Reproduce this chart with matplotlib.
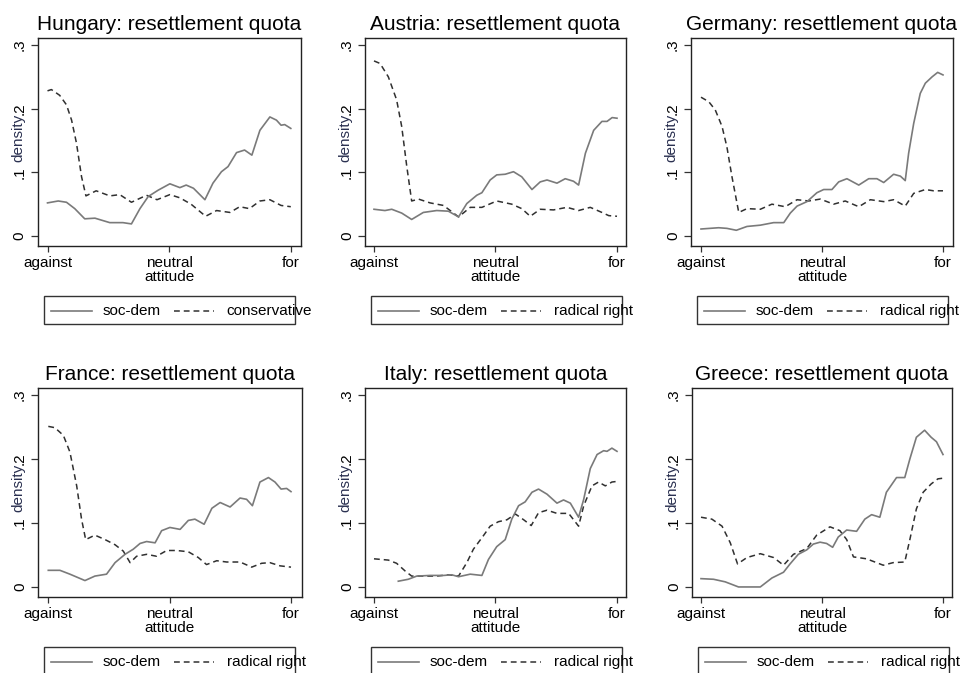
import matplotlib
matplotlib.use("Agg")
import matplotlib.pyplot as plt
from matplotlib.lines import Line2D
from matplotlib.patches import Rectangle

plt.rcParams['font.family'] = ['Liberation Sans', 'DejaVu Sans']

# ---------------- data ----------------
countries = ["Hungary", "Austria", "Germany", "France", "Italy", "Greece"]
other_labels = ["conservative", "radical right", "radical right",
                "radical right", "radical right", "radical right"]
tick_values = [0, 5, 10]
tick_labels = ["against", "neutral\nattitude", "for"]
ytick_values = [0, 0.1, 0.2, 0.3]
ytick_labels = ["0", ".1", ".2", ".3"]

hungary_sd_x = [0, 0.44, 0.78, 1.12, 1.53, 1.95, 2.56, 3.1, 3.45, 3.8, 4.14, 4.55, 5.03, 5.44, 5.7, 6.0,
                6.47, 6.8, 7.15, 7.42, 7.77, 8.1, 8.4, 8.73, 9.14, 9.41, 9.6, 9.75, 10]
hungary_sd_y = [0.052, 0.055, 0.053, 0.043, 0.027, 0.028, 0.021, 0.021, 0.019, 0.043, 0.062, 0.072, 0.082,
                0.076, 0.080, 0.075, 0.057, 0.083, 0.101, 0.109, 0.131, 0.135, 0.127, 0.166, 0.187, 0.182,
                0.174, 0.175, 0.169]
hungary_ot_x = [0, 0.16, 0.5, 0.78, 0.99, 1.19, 1.4, 1.58, 2.0, 2.56, 2.97, 3.45, 4.07, 4.5, 5.03, 5.44,
                5.9, 6.5, 6.95, 7.5, 7.9, 8.3, 8.73, 9.14, 9.6, 10]
hungary_ot_y = [0.228, 0.230, 0.221, 0.206, 0.182, 0.146, 0.093, 0.063, 0.071, 0.063, 0.065, 0.053, 0.064,
                0.057, 0.065, 0.060, 0.050, 0.031, 0.040, 0.037, 0.046, 0.043, 0.055, 0.057, 0.048, 0.046]

austria_sd_x = [0, 0.45, 0.73, 1.14, 1.55, 2.03, 2.58, 3.06, 3.48, 3.82, 4.23, 4.44, 4.78, 5.05, 5.4, 5.74,
                6.08, 6.5, 6.84, 7.12, 7.53, 7.87, 8.21, 8.42, 8.7, 9.04, 9.38, 9.59, 9.8, 10]
austria_sd_y = [0.042, 0.040, 0.042, 0.036, 0.026, 0.037, 0.040, 0.039, 0.030, 0.051, 0.064, 0.068, 0.088,
                0.096, 0.097, 0.101, 0.093, 0.073, 0.085, 0.088, 0.083, 0.090, 0.086, 0.080, 0.130, 0.166,
                0.180, 0.180, 0.186, 0.185]
austria_ot_x = [0, 0.25, 0.59, 0.93, 1.14, 1.35, 1.55, 1.83, 2.31, 2.86, 3.48, 3.96, 4.44, 5.05, 5.67, 6.08,
                6.43, 6.84, 7.39, 7.94, 8.42, 8.9, 9.38, 9.66, 10]
austria_ot_y = [0.275, 0.271, 0.250, 0.214, 0.172, 0.109, 0.055, 0.058, 0.052, 0.048, 0.030, 0.045, 0.045,
                0.055, 0.050, 0.043, 0.031, 0.042, 0.041, 0.045, 0.040, 0.045, 0.037, 0.032, 0.031]

germany_sd_x = [0, 0.73, 1.07, 1.46, 1.9, 2.45, 3.0, 3.42, 3.69, 3.97, 4.38, 4.79, 5.07, 5.41, 5.69, 6.03,
                6.52, 6.93, 7.27, 7.55, 7.96, 8.24, 8.44, 8.58, 8.79, 9.06, 9.27, 9.55, 9.78, 10]
germany_sd_y = [0.011, 0.013, 0.012, 0.009, 0.015, 0.017, 0.021, 0.021, 0.036, 0.047, 0.054, 0.068, 0.073,
                0.073, 0.085, 0.090, 0.080, 0.090, 0.090, 0.084, 0.097, 0.094, 0.087, 0.130, 0.177, 0.224,
                0.240, 0.250, 0.257, 0.253]
germany_ot_x = [0, 0.32, 0.59, 0.87, 1.07, 1.28, 1.56, 1.9, 2.45, 2.93, 3.48, 3.97, 4.45, 4.93, 5.48, 5.96,
                6.52, 7.0, 7.55, 7.96, 8.44, 8.79, 9.27, 9.61, 10]
germany_ot_y = [0.218, 0.211, 0.198, 0.172, 0.140, 0.093, 0.037, 0.043, 0.042, 0.050, 0.046, 0.057, 0.055,
                0.058, 0.050, 0.055, 0.046, 0.057, 0.054, 0.057, 0.047, 0.067, 0.073, 0.071, 0.071]

france_sd_x = [0, 0.48, 0.89, 1.51, 1.92, 2.4, 2.75, 3.16, 3.5, 3.78, 4.05, 4.4, 4.67, 5.01, 5.43, 5.77,
               6.04, 6.42, 6.74, 7.08, 7.49, 7.9, 8.17, 8.41, 8.72, 9.07, 9.34, 9.59, 9.82, 10]
france_sd_y = [0.026, 0.026, 0.020, 0.010, 0.017, 0.020, 0.038, 0.051, 0.059, 0.068, 0.071, 0.069, 0.088,
               0.093, 0.090, 0.104, 0.106, 0.098, 0.123, 0.132, 0.125, 0.139, 0.137, 0.127, 0.164, 0.171,
               0.164, 0.153, 0.154, 0.149]
france_ot_x = [0, 0.27, 0.62, 0.89, 1.17, 1.37, 1.54, 1.92, 2.34, 2.75, 3.09, 3.37, 3.64, 4.05, 4.46, 4.88,
               5.29, 5.77, 6.18, 6.52, 6.94, 7.35, 7.9, 8.38, 8.79, 9.13, 9.55, 10]
france_ot_y = [0.251, 0.249, 0.237, 0.211, 0.158, 0.106, 0.074, 0.081, 0.074, 0.066, 0.056, 0.038, 0.048,
               0.051, 0.048, 0.057, 0.057, 0.055, 0.046, 0.035, 0.041, 0.039, 0.039, 0.031, 0.037, 0.038,
               0.033, 0.031]

italy_sd_x = [1.0, 1.41, 1.76, 2.31, 2.86, 3.2, 3.48, 3.96, 4.44, 4.71, 5.05, 5.4, 5.67, 5.95, 6.22, 6.5,
              6.77, 7.12, 7.53, 7.8, 8.08, 8.42, 8.63, 8.9, 9.18, 9.45, 9.59, 9.79, 10]
italy_sd_y = [0.009, 0.012, 0.017, 0.018, 0.018, 0.019, 0.016, 0.020, 0.018, 0.043, 0.063, 0.074, 0.106,
              0.127, 0.133, 0.148, 0.153, 0.145, 0.131, 0.136, 0.131, 0.109, 0.137, 0.185, 0.207, 0.213,
              0.212, 0.217, 0.212]
italy_ot_x = [0, 0.59, 0.93, 1.28, 1.55, 2.03, 2.58, 3.06, 3.48, 3.82, 4.09, 4.5, 4.78, 5.12, 5.47, 5.82,
              6.16, 6.47, 6.77, 7.12, 7.53, 8.01, 8.42, 8.63, 8.97, 9.24, 9.52, 9.79, 10]
italy_ot_y = [0.044, 0.042, 0.037, 0.025, 0.017, 0.017, 0.017, 0.019, 0.017, 0.038, 0.059, 0.080, 0.095,
              0.102, 0.105, 0.114, 0.105, 0.096, 0.116, 0.120, 0.115, 0.115, 0.095, 0.127, 0.158, 0.164,
              0.158, 0.164, 0.165]

greece_sd_x = [0, 0.52, 1.0, 1.55, 2.03, 2.45, 2.93, 3.41, 3.68, 4.02, 4.37, 4.64, 4.92, 5.19, 5.44, 5.67,
               6.02, 6.43, 6.77, 7.05, 7.39, 7.66, 8.08, 8.42, 8.63, 8.9, 9.24, 9.51, 9.73, 10]
greece_sd_y = [0.013, 0.012, 0.008, 0.000, 0.000, 0.000, 0.014, 0.023, 0.036, 0.051, 0.058, 0.067, 0.070,
               0.068, 0.062, 0.078, 0.089, 0.087, 0.106, 0.113, 0.109, 0.148, 0.171, 0.171, 0.200, 0.234,
               0.245, 0.234, 0.227, 0.207]
greece_ot_x = [0, 0.45, 0.87, 1.21, 1.51, 1.9, 2.45, 3.0, 3.41, 3.82, 4.37, 4.78, 5.33, 5.74, 6.02, 6.3,
               6.84, 7.53, 7.94, 8.42, 8.63, 8.9, 9.18, 9.51, 9.79, 10]
greece_ot_y = [0.109, 0.106, 0.095, 0.069, 0.036, 0.046, 0.052, 0.046, 0.034, 0.051, 0.060, 0.081, 0.094,
               0.088, 0.074, 0.047, 0.044, 0.034, 0.038, 0.039, 0.074, 0.122, 0.148, 0.161, 0.169, 0.170]

socdem_series = [(hungary_sd_x, hungary_sd_y), (austria_sd_x, austria_sd_y), (germany_sd_x, germany_sd_y),
                 (france_sd_x, france_sd_y), (italy_sd_x, italy_sd_y), (greece_sd_x, greece_sd_y)]
other_series = [(hungary_ot_x, hungary_ot_y), (austria_ot_x, austria_ot_y), (germany_ot_x, germany_ot_y),
                (france_ot_x, france_ot_y), (italy_ot_x, italy_ot_y), (greece_ot_x, greece_ot_y)]

# ---------------- layout (pixels) ----------------
W, H = 964, 673
# plot box: left, right, top, bottom ; x pixel of "against" and "for" ticks
boxes = [(37.7, 300.5, 38, 246, 47.5, 290.8),
         (365, 626, 38, 246, 374, 617),
         (691, 953, 38, 246, 701, 943),
         (38, 302, 388, 597, 48.3, 291),
         (365, 626, 388, 597, 374, 617),
         (692, 952, 388, 597, 701, 943)]
ylo, yhi = -0.0157, 0.311

SD_COLOR = "#7a7a7a"
OT_COLOR = "#303030"
LAB_COLOR = "#2a3050"
DASH = (0, (3.8, 2.6))

fig = plt.figure(figsize=(W / 100, H / 100), dpi=100)
fig.patch.set_facecolor("white")


def fx(px):
    return px / W


def fy(py):
    return 1 - py / H


for i, country in enumerate(countries):
    l, r, t, b, xa, xf = boxes[i]
    ax = fig.add_axes([fx(l), fy(b), (r - l) / W, (b - t) / H])
    unit = (xf - xa) / 10.0
    ax.set_xlim((l - xa) / unit, (r - xa) / unit)
    ax.set_ylim(ylo, yhi)

    sx, sy = socdem_series[i]
    ox, oy = other_series[i]
    ax.plot(ox, oy, color=OT_COLOR, lw=1.1, linestyle=DASH, solid_capstyle='butt')
    ax.plot(sx, sy, color=SD_COLOR, lw=1.2)

    ax.set_xticks(tick_values)
    ax.set_xticklabels(tick_labels, fontsize=11, linespacing=0.95)
    ax.set_yticks(ytick_values)
    ax.set_yticklabels(ytick_labels, fontsize=11, rotation=90, va='center')
    ax.tick_params(axis='x', length=4.5, width=0.9, pad=3, color='#333333')
    ax.tick_params(axis='y', length=5, width=0.9, pad=3, color='#333333')
    for s in ax.spines.values():
        s.set_linewidth(1.0)
        s.set_color('#222222')

    ax.set_title(f"{country}: resettlement quota", fontsize=15, pad=5.5)
    ylab = ax.set_ylabel("density", fontsize=11, color=LAB_COLOR)
    ylab.set_va('center')
    ax.yaxis.set_label_coords(-(l - 0 - (l - 19.5)) / (r - l), 0.52)

    # legend box below the plot
    lt = b + 50
    ll = l + 6
    fig.patches.append(Rectangle((fx(ll), fy(lt + 28)), 251 / W, 28 / H, transform=fig.transFigure,
                                 facecolor='white', edgecolor='#333333', lw=1.0))
    ymid = fy(lt + 15)
    fig.lines.append(Line2D([fx(ll + 7), fx(ll + 48)], [ymid, ymid], transform=fig.transFigure,
                            color=SD_COLOR, lw=1.2))
    fig.text(fx(ll + 59), ymid, "soc-dem", fontsize=11, va='center', ha='left')
    fig.lines.append(Line2D([fx(ll + 130), fx(ll + 170)], [ymid, ymid], transform=fig.transFigure,
                            color=OT_COLOR, lw=1.1, linestyle=DASH))
    fig.text(fx(ll + 183), ymid, other_labels[i], fontsize=11, va='center', ha='left')

fig.savefig("out.png", dpi=100, facecolor="white")
